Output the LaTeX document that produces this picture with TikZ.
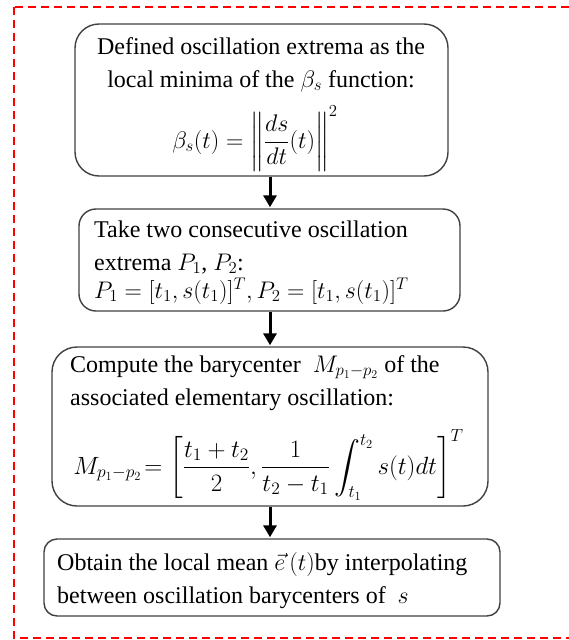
\documentclass[tikz,border=0pt]{standalone}
\usepackage{fix-cm}
\usepackage{amsmath}
\usepackage{exscale}
\usepackage[no-math]{fontspec}
\setmainfont{Liberation Serif}
\usetikzlibrary{arrows.meta}
\definecolor{boxline}{HTML}{404040}
\tikzset{
  stepbox/.style={draw=boxline, line width=1.4pt},
  steptext/.style={inner sep=0pt, font=\fontsize{24}{33}\selectfont},
  flowarrow/.style={line width=3pt, -{Triangle[length=12pt,width=13pt]}, shorten >=1pt},
  frame/.style={draw=red, line width=2pt, dash pattern=on 8pt off 5pt}
}
\newcommand{\txtlines}[2]{\begin{tabular}[t]{@{}#1@{}}#2\end{tabular}}
\begin{document}
\begin{tikzpicture}[x=1pt,y=-1pt]
\useasboundingbox (0,0) rectangle (568,640);
\draw[frame] (14,7) rectangle (590,638);

% boxes
\node[stepbox, rounded corners=24pt, minimum width=373pt, minimum height=152pt] (b1) at (261.5,100) {};
\node[stepbox, rounded corners=17pt, minimum width=381pt, minimum height=102pt] (b2) at (269.5,260) {};
\node[stepbox, rounded corners=25pt, minimum width=436pt, minimum height=159pt] (b3) at (270,426.5) {};
\node[stepbox, rounded corners=13pt, minimum width=456pt, minimum height=77pt] (b4) at (272,577.5) {};

% texts
\node[steptext, anchor=base] (t1) at (261,54)
  {\txtlines{c}{Defined oscillation extrema as the\\ local minima of the $\beta_s$ function:}};
\node[steptext, anchor=base] (f1) at (255,148)
  {$\displaystyle \beta_s(t) = \left\|\rule[-26pt]{0pt}{64pt}\frac{ds}{dt}(t)\right\|^2$};

\node[steptext, anchor=base west] (t2) at (94,237)
  {\txtlines{l}{Take two consecutive oscillation\\ extrema $P_1$, $P_2$:\\[-5pt]
   $P_1 = [t_1, s(t_1)]^T, P_2 = [t_1, s(t_1)]^T$}};

\node[steptext, anchor=base west] (t3) at (70,372)
  {\txtlines{l}{Compute the barycenter\ \ $M_{p_1-p_2}$ of the\\ associated elementary oscillation:}};
\node[steptext, anchor=base, scale=1.04] (f3) at (268.5,474)
  {$\displaystyle M_{p_1-p_2}\!= \left[\frac{t_1+t_2}{2},\frac{1}{t_2-t_1}\int_{t_1}^{t_2} s(t)dt\right]^T$};

\node[steptext, anchor=base west] (t4) at (57,570)
  {\txtlines{l}{Obtain the local mean $\vec{e}\,(t)$by interpolating\\ between oscillation barycenters of\ \ $s$}};

% connectors
\coordinate (ax) at (270,0);
\draw[flowarrow] (ax |- b1.south) -- (ax |- b2.north);
\draw[flowarrow] (ax |- b2.south) -- (ax |- b3.north);
\draw[flowarrow] (ax |- b3.south) -- (ax |- b4.north);
\end{tikzpicture}
\end{document}
